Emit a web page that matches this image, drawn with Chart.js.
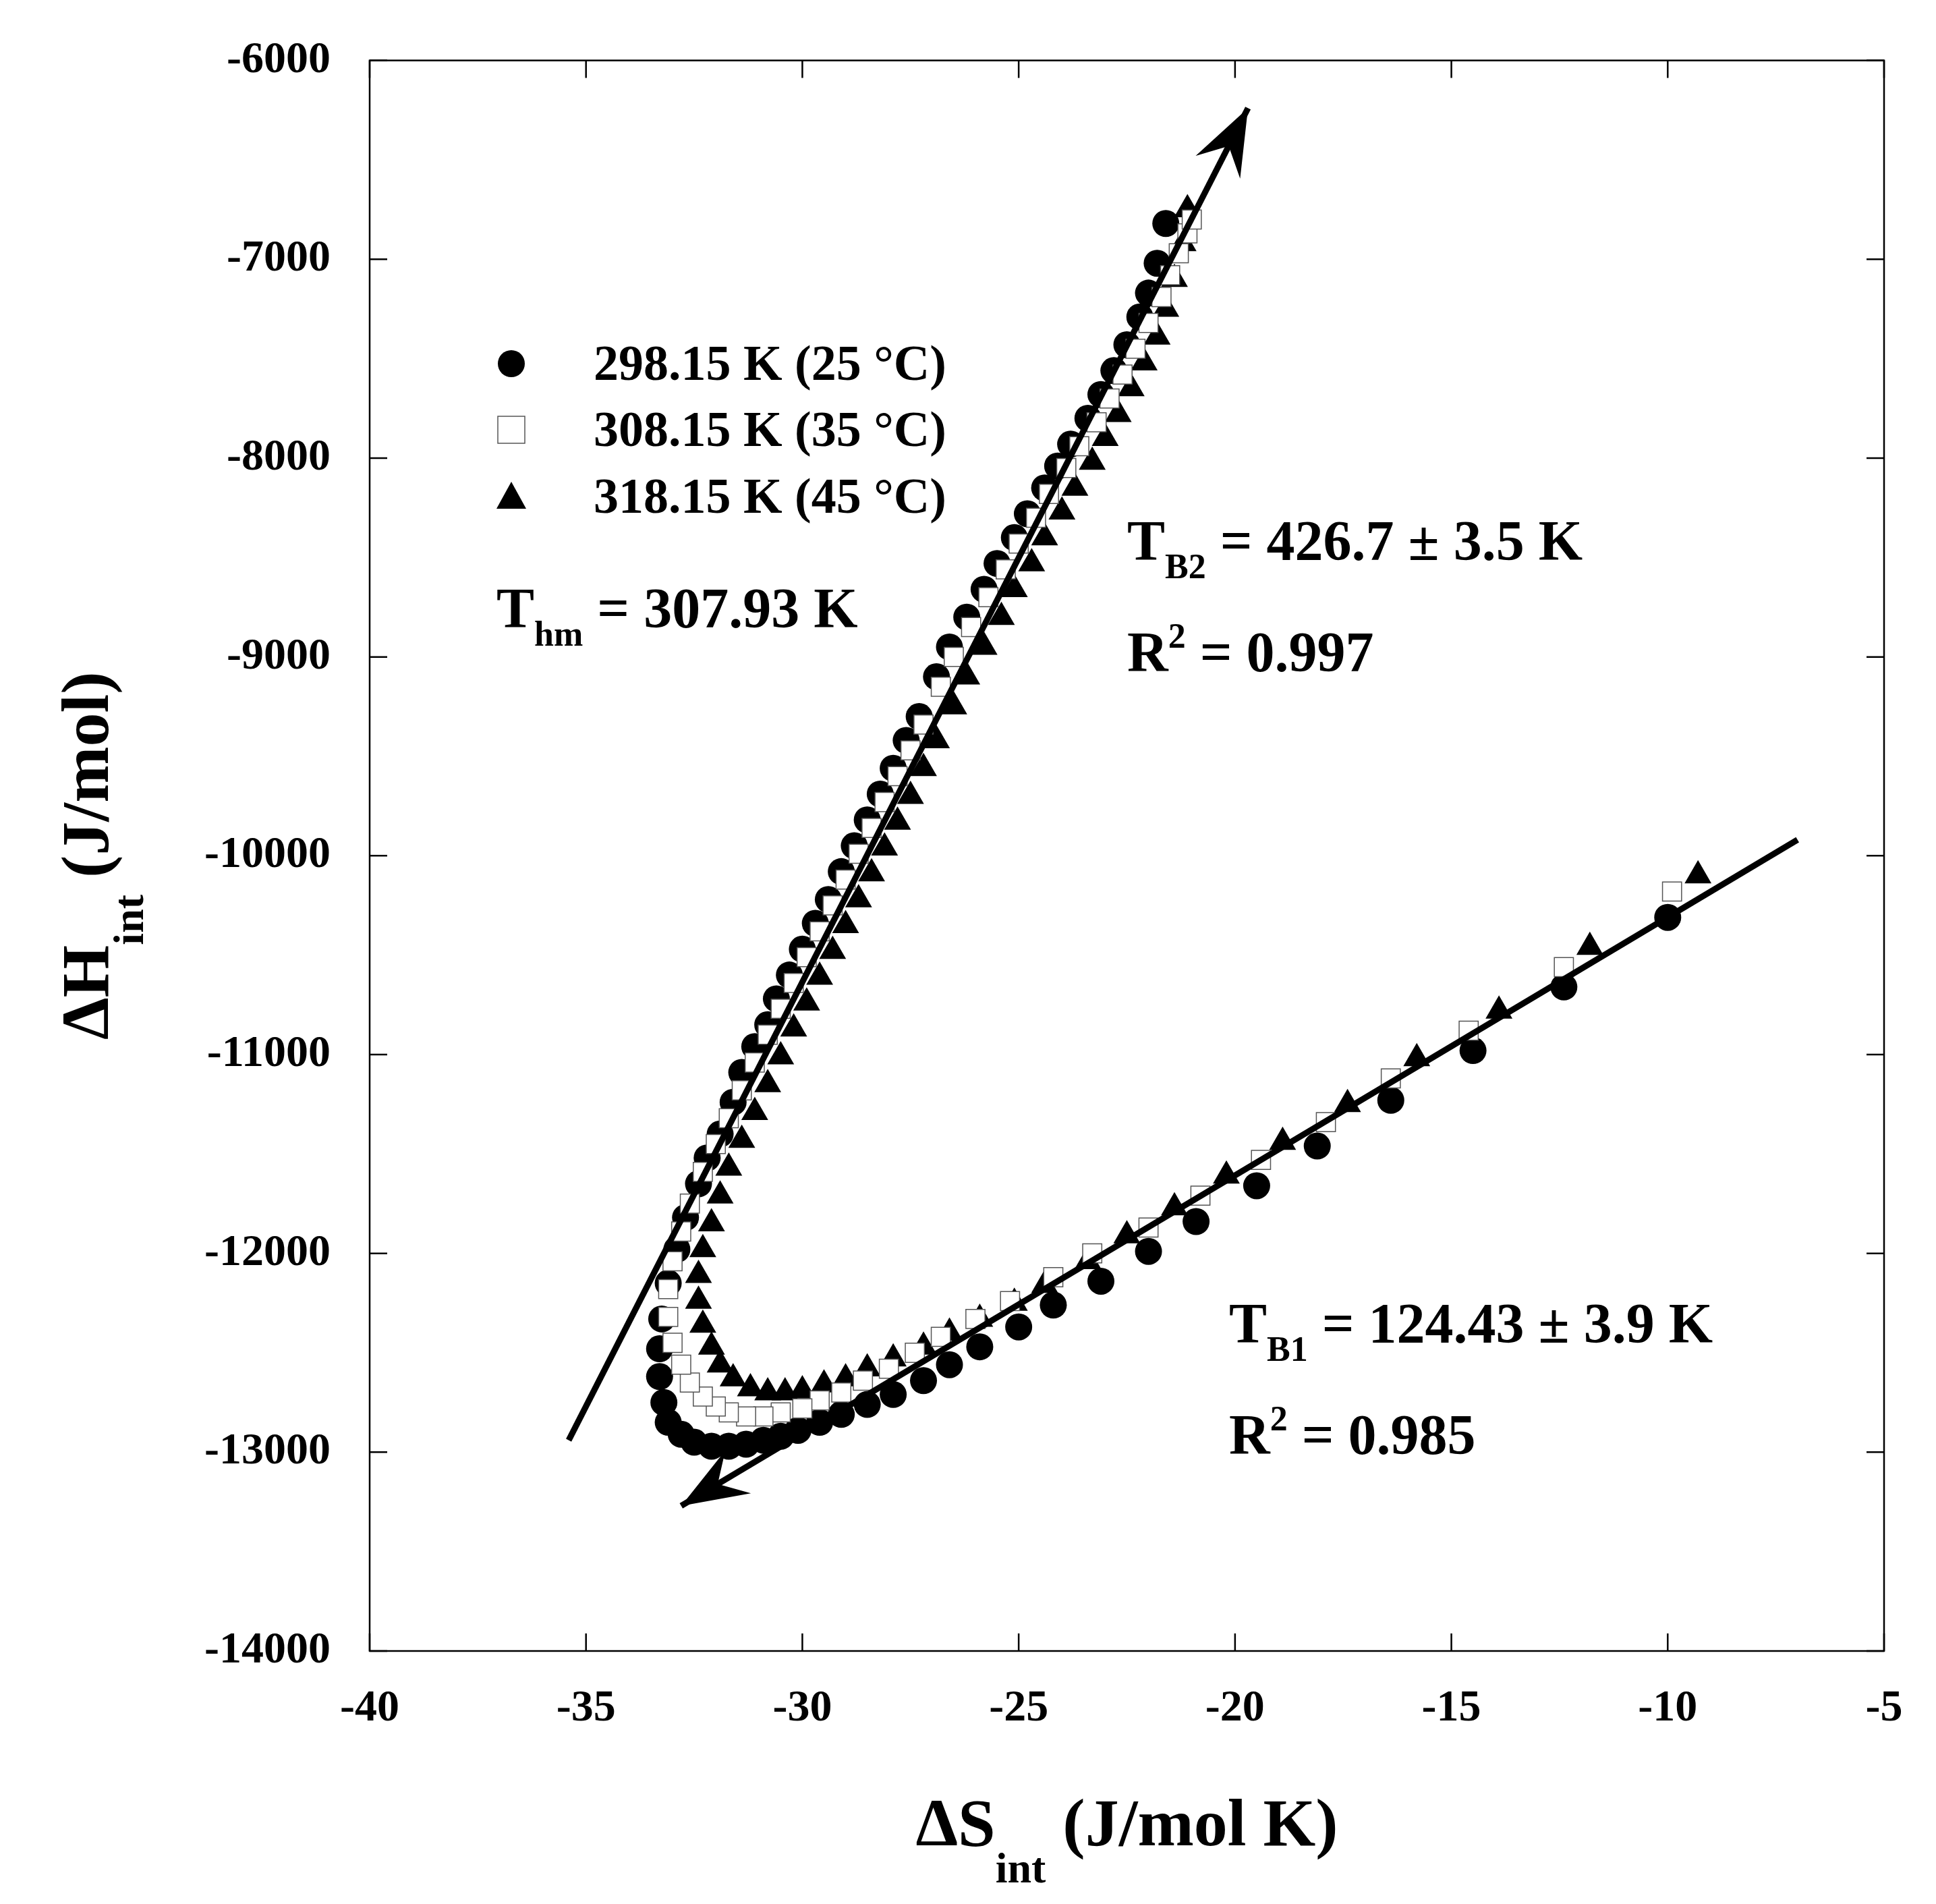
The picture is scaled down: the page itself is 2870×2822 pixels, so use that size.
<!DOCTYPE html>
<html><head><meta charset="utf-8">
<script src="https://cdn.jsdelivr.net/npm/chart.js@4/dist/chart.umd.min.js"></script>
<style>html,body{margin:0;padding:0;background:#fff}#w{width:2870px;height:2822px}</style>
</head><body><div id="w"><canvas id="c"></canvas></div>
<script>
const xTicks=[-40,-35,-30,-25,-20,-15,-10,-5];
const yTicks=[-6000,-7000,-8000,-9000,-10000,-11000,-12000,-13000,-14000];
const s298x=[-10,-12.4,-14.5,-16.4,-18.1,-19.5,-20.9,-22,-23.1,-24.2,-25,-25.9,-26.6,-27.2,-27.9,-28.5,-29.1,-29.6,-30.1,-30.5,-30.9,-31.3,-31.7,-32.1,-32.5,-32.8,-33.1,-33.2,-33.3,-33.3,-33.25,-33.1,-32.9,-32.7,-32.4,-32.2,-31.9,-31.6,-31.4,-31.1,-30.8,-30.6,-30.3,-30.0,-29.7,-29.4,-29.1,-28.8,-28.5,-28.2,-27.9,-27.6,-27.3,-26.9,-26.6,-26.2,-25.8,-25.5,-25.1,-24.8,-24.4,-24.1,-23.8,-23.4,-23.1,-22.8,-22.5,-22.2,-22.0,-21.8,-21.6];
const s298y=[-10310,-10660,-10980,-11230,-11460,-11660,-11840,-11990,-12140,-12260,-12370,-12470,-12560,-12640,-12710,-12760,-12810,-12850,-12890,-12920,-12940,-12960,-12970,-12970,-12950,-12910,-12850,-12750,-12620,-12480,-12330,-12150,-11980,-11820,-11650,-11520,-11400,-11240,-11090,-10960,-10850,-10720,-10600,-10470,-10340,-10220,-10080,-9950,-9820,-9690,-9560,-9420,-9300,-9100,-8950,-8800,-8660,-8530,-8400,-8280,-8150,-8040,-7930,-7800,-7680,-7560,-7430,-7290,-7170,-7020,-6820];
const s308x=[-9.9,-12.4,-14.6,-16.4,-17.9,-19.4,-20.8,-22,-23.3,-24.2,-25.2,-26,-26.8,-27.4,-28.0,-28.6,-29.1,-29.6,-30.0,-30.5,-30.9,-31.3,-31.7,-32.0,-32.3,-32.6,-32.8,-33.0,-33.1,-33.1,-33.0,-32.8,-32.6,-32.3,-32.0,-31.7,-31.4,-31.1,-30.8,-30.5,-30.2,-29.9,-29.6,-29.3,-29.0,-28.7,-28.4,-28.1,-27.8,-27.5,-27.2,-26.8,-26.5,-26.1,-25.7,-25.3,-25.0,-24.6,-24.3,-23.9,-23.6,-23.2,-22.9,-22.6,-22.3,-22.0,-21.7,-21.5,-21.3,-21.1,-21.0];
const s308y=[-10180,-10560,-10880,-11120,-11340,-11530,-11710,-11870,-12000,-12120,-12240,-12330,-12420,-12500,-12580,-12640,-12700,-12740,-12780,-12800,-12820,-12820,-12800,-12770,-12720,-12650,-12560,-12450,-12320,-12180,-12040,-11890,-11750,-11590,-11450,-11320,-11180,-11040,-10900,-10770,-10640,-10510,-10380,-10250,-10120,-9990,-9860,-9730,-9600,-9470,-9340,-9150,-9000,-8850,-8700,-8560,-8430,-8300,-8180,-8050,-7940,-7820,-7700,-7580,-7450,-7320,-7190,-7080,-6970,-6870,-6800];
const s318x=[-9.3,-11.8,-13.9,-15.8,-17.4,-18.9,-20.2,-21.4,-22.5,-23.4,-24.4,-25.1,-25.9,-26.6,-27.2,-27.9,-28.5,-29.0,-29.5,-30.0,-30.4,-30.8,-31.2,-31.6,-31.9,-32.1,-32.3,-32.4,-32.4,-32.3,-32.1,-31.9,-31.7,-31.4,-31.1,-30.8,-30.5,-30.2,-29.9,-29.6,-29.3,-29.0,-28.7,-28.4,-28.1,-27.8,-27.5,-27.2,-26.9,-26.5,-26.2,-25.8,-25.4,-25.1,-24.7,-24.4,-24.0,-23.7,-23.3,-23.0,-22.7,-22.4,-22.1,-21.8,-21.6,-21.4,-21.2,-21.1];
const s318y=[-10100,-10460,-10780,-11020,-11250,-11440,-11610,-11770,-11910,-12040,-12160,-12250,-12330,-12400,-12470,-12530,-12580,-12630,-12660,-12690,-12700,-12700,-12680,-12630,-12560,-12470,-12360,-12240,-12110,-11980,-11850,-11710,-11570,-11430,-11290,-11150,-11010,-10870,-10740,-10610,-10480,-10350,-10220,-10090,-9960,-9830,-9700,-9560,-9420,-9250,-9100,-8950,-8800,-8660,-8530,-8400,-8270,-8150,-8020,-7900,-7780,-7650,-7520,-7390,-7250,-7100,-6920,-6750];
const fit1x=[-32.8,-7.0], fit1y=[-13270,-9920];
const fit2x=[-35.4,-19.7], fit2y=[-12940,-6240];
const legendLabels=['298.15 K (25 °C)','308.15 K (35 °C)','318.15 K (45 °C)'];

const pts=(xs,ys)=>xs.map((x,i)=>({x,y:ys[i]}));
const F='"Liberation Serif", "Times New Roman", serif';
const R=20;
function arrowHead(ctx,x1,y1,x2,y2){const a=Math.atan2(y2-y1,x2-x1),L=105,W=0.36;
 ctx.beginPath();ctx.moveTo(x2,y2);ctx.lineTo(x2-L*Math.cos(a-W),y2-L*Math.sin(a-W));
 ctx.lineTo(x2-0.6*L*Math.cos(a),y2-0.6*L*Math.sin(a));
 ctx.lineTo(x2-L*Math.cos(a+W),y2-L*Math.sin(a+W));ctx.closePath();ctx.fill();}
function sub(ctx,x,y,main,s,rest,size){ctx.font='bold '+size+'px '+F;ctx.fillText(main,x,y);let w=ctx.measureText(main).width;
 ctx.font='bold '+Math.round(size*0.62)+'px '+F;ctx.fillText(s,x+w,y+size*0.32);let w2=ctx.measureText(s).width;
 ctx.font='bold '+size+'px '+F;ctx.fillText(rest,x+w+w2,y);}
function sup(ctx,x,y,main,s,rest,size){ctx.font='bold '+size+'px '+F;ctx.fillText(main,x,y);let w=ctx.measureText(main).width;
 ctx.font='bold '+Math.round(size*0.62)+'px '+F;ctx.fillText(s,x+w,y-size*0.42);let w2=ctx.measureText(s).width;
 ctx.font='bold '+size+'px '+F;ctx.fillText(rest,x+w+w2,y);}
const deco={id:'deco',afterDraw(ch){const ctx=ch.ctx,a=ch.chartArea,xs=ch.scales.x,ys=ch.scales.y;ctx.save();
 ctx.strokeStyle='#000';ctx.fillStyle='#000';ctx.lineWidth=2.5;ctx.strokeRect(a.left,a.top,a.right-a.left,a.bottom-a.top);
 const T=26;xTicks.forEach(v=>{const p=xs.getPixelForValue(v);ctx.beginPath();ctx.moveTo(p,a.bottom);ctx.lineTo(p,a.bottom-T);ctx.moveTo(p,a.top);ctx.lineTo(p,a.top+T);ctx.stroke();});
 yTicks.forEach(v=>{const p=ys.getPixelForValue(v);ctx.beginPath();ctx.moveTo(a.left,p);ctx.lineTo(a.left+T,p);ctx.moveTo(a.right,p);ctx.lineTo(a.right-T,p);ctx.stroke();});
 arrowHead(ctx,xs.getPixelForValue(fit1x[1]),ys.getPixelForValue(fit1y[1]),xs.getPixelForValue(fit1x[0]),ys.getPixelForValue(fit1y[0]));
 arrowHead(ctx,xs.getPixelForValue(fit2x[0]),ys.getPixelForValue(fit2y[0]),xs.getPixelForValue(fit2x[1]),ys.getPixelForValue(fit2y[1]));
 ctx.textBaseline='alphabetic';ctx.textAlign='left';
 const lx=758,ly=[539,637,736];
 ctx.beginPath();ctx.arc(lx,ly[0],R,0,7);ctx.fill();
 ctx.lineWidth=1.5;ctx.strokeStyle='#555';ctx.strokeRect(lx-R,ly[1]-R,2*R,2*R);
 ctx.beginPath();ctx.moveTo(lx,ly[2]-R-2);ctx.lineTo(lx+R+2,ly[2]+R-2);ctx.lineTo(lx-R-2,ly[2]+R-2);ctx.closePath();ctx.fill();
 ctx.font='bold 74px '+F;legendLabels.forEach((t,i)=>ctx.fillText(t,880,ly[i]+24));
 sub(ctx,736,930,'T','hm',' = 307.93 K',84);
 sub(ctx,1671,830,'T','B2',' = 426.7 ± 3.5 K',84);
 sup(ctx,1671,995,'R','2',' = 0.997',84);
 sub(ctx,1822,1990,'T','B1',' = 124.43 ± 3.9 K',84);
 sup(ctx,1822,2155,'R','2',' = 0.985',84);
 ctx.font='bold 100px '+F;
 let wA=ctx.measureText('ΔS').width;ctx.font='bold 64px '+F;let wB=ctx.measureText('int').width;ctx.font='bold 100px '+F;let wC=ctx.measureText(' (J/mol K)').width;
 let sx=(a.left+a.right)/2-(wA+wB+wC)/2;ctx.fillText('ΔS',sx,2735);ctx.font='bold 64px '+F;ctx.fillText('int',sx+wA,2790);ctx.font='bold 100px '+F;ctx.fillText(' (J/mol K)',sx+wA+wB,2735);
 ctx.translate(160,(a.top+a.bottom)/2);ctx.rotate(-Math.PI/2);
 wA=ctx.measureText('ΔH').width;ctx.font='bold 64px '+F;wB=ctx.measureText('int').width;ctx.font='bold 100px '+F;wC=ctx.measureText(' (J/mol)').width;
 sx=-(wA+wB+wC)/2;ctx.fillText('ΔH',sx,0);ctx.font='bold 64px '+F;ctx.fillText('int',sx+wA,52);ctx.font='bold 100px '+F;ctx.fillText(' (J/mol)',sx+wA+wB,0);
 ctx.restore();}};
new Chart(document.getElementById('c'),{type:'scatter',
 data:{datasets:[
  {data:pts(fit1x,fit1y),showLine:true,borderColor:'#000',borderWidth:9,pointRadius:0},
  {data:pts(fit2x,fit2y),showLine:true,borderColor:'#000',borderWidth:9,pointRadius:0},
  {data:pts(s308x,s308y),pointStyle:'rect',pointRadius:R,backgroundColor:'#fff',borderColor:'#555',borderWidth:1.5},
  {data:pts(s298x,s298y),pointStyle:'circle',pointRadius:R,backgroundColor:'#000',borderColor:'#000',borderWidth:0},
  {data:pts(s318x,s318y),pointStyle:'triangle',pointRadius:R+3,backgroundColor:'#000',borderColor:'#000',borderWidth:0}
 ]},
 options:{responsive:true,maintainAspectRatio:false,animation:false,devicePixelRatio:1,
  layout:{padding:{top:88,right:77,left:0,bottom:0}},
  plugins:{legend:{display:false},tooltip:{enabled:false}},
  scales:{
   x:{type:'linear',min:-40,max:-5,afterBuildTicks:s=>{s.ticks=xTicks.map(v=>({value:v}))},afterFit:s=>{s.height=375},
    grid:{display:false},border:{display:false},ticks:{color:'#000',padding:38,callback:v=>String(v),font:{family:F,size:66,weight:'bold'},maxRotation:0}},
   y:{type:'linear',min:-14000,max:-6000,afterBuildTicks:s=>{s.ticks=yTicks.map(v=>({value:v}))},afterFit:s=>{s.width=548},
    grid:{display:false},border:{display:false},ticks:{color:'#000',padding:50,callback:v=>String(v),font:{family:F,size:66,weight:'bold'}}}
  }},plugins:[deco]});
</script></body></html>
